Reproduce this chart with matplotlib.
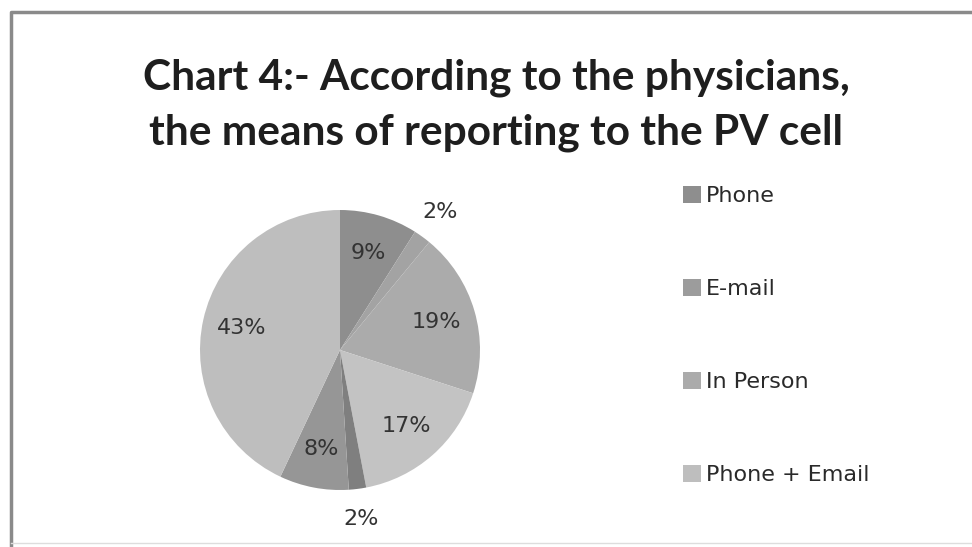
import matplotlib.pyplot as plt
from matplotlib.patches import Rectangle
from matplotlib.lines import Line2D
import numpy as np

labels = ['Phone', 'E-mail', 'In Person', 'Phone + Email',
          'Phone + In Person', 'E-mail + In Person', 'All']
shares = [9, 2, 19, 17, 2, 8, 43]
colors = ['#8e8e8e', '#a3a3a3', '#ababab', '#c3c3c3',
          '#7f7f7f', '#969696', '#bebebe']
legend_colors = ['#8e8e8e', '#9c9c9c', '#ababab', '#bebebe']
title_lines = ['Chart 4:- According to the physicians,',
               'the means of reporting to the PV cell']

plt.rcParams['font.family'] = ['DejaVu Sans']

fig = plt.figure(figsize=(9.72, 5.47), dpi=100)
fig.patch.set_facecolor('white')

# frame of the original screenshot: dark top/left, faint bottom
def px(x, y):
    return x / 972, 1 - y / 547

fig.add_artist(Line2D(*zip(px(11, 545), px(11, 12), px(972, 12)),
                      transform=fig.transFigure, color='#8a8a8a', linewidth=2.5))
fig.add_artist(Line2D(*zip(px(11, 543), px(972, 543)),
                      transform=fig.transFigure, color='#dddddd', linewidth=1))

for line, yb in zip(title_lines, [90, 145]):
    fig.text(496 / 972, 1 - yb / 547, line, ha='center', va='baseline',
             fontsize=30.5, fontweight='bold', family='Lato', color='#1e1e1e')

R = 140
ax = fig.add_axes([(340 - R) / 972, (547 - 350 - R) / 547, 2 * R / 972, 2 * R / 547])
wedges, _ = ax.pie(shares, colors=colors, startangle=90, counterclock=False,
                   radius=1, wedgeprops=dict(linewidth=0))
ax.set_xlim(-1, 1)
ax.set_ylim(-1, 1)
ax.set_aspect('equal')

angle = 90.0
for w, s in zip(wedges, shares):
    mid = np.deg2rad(angle - s * 3.6 / 2)
    angle -= s * 3.6
    r = 1.22 if s <= 2 else 0.72
    ax.text(r * np.cos(mid), r * np.sin(mid), f'{s}%', ha='center', va='center',
            fontsize=16, color='#333333', clip_on=False)

handles = [Rectangle((0, 0), 1, 1, facecolor=c, edgecolor='none') for c in legend_colors]
fig.legend(handles, labels[:4], loc='upper left', bbox_to_anchor=(663 / 972, 1 - 166 / 547),
           frameon=False, fontsize=16, labelspacing=3.27, handlelength=0.8,
           handleheight=0.8, handletextpad=0.25, labelcolor='#2a2a2a')

fig.savefig('out.png', dpi=100, facecolor='white')
